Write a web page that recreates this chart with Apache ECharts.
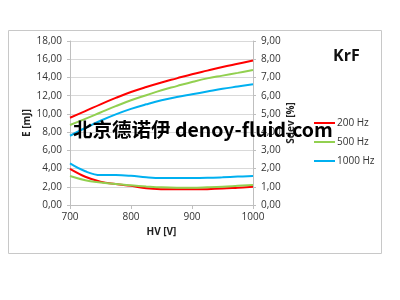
<!DOCTYPE html>
<html><head><meta charset="utf-8">
<script src="https://cdn.jsdelivr.net/npm/echarts@6/dist/echarts.min.js"></script>
<style>html,body{margin:0;padding:0;background:#fff}#c{width:400px;height:300px}</style>
</head><body><div id="c"></div>
<script>
const hv = [700,725,750,775,800,825,850,875,900,925,950,975,1000];
const e200 = [9.58,10.3,11.05,11.75,12.4,12.95,13.45,13.9,14.35,14.75,15.15,15.5,15.85];
const e500 = [8.78,9.45,10.15,10.85,11.5,12.05,12.6,13.05,13.5,13.9,14.2,14.5,14.82];
const e1000 = [7.6,8.45,9.25,9.95,10.55,11.05,11.5,11.85,12.15,12.45,12.75,13.0,13.25];
const s200 = [1.98,1.55,1.28,1.15,1.05,0.92,0.87,0.86,0.86,0.87,0.9,0.95,1.0];
const s500 = [1.59,1.36,1.24,1.15,1.08,1.02,0.97,0.95,0.95,0.97,1.0,1.05,1.1];
const s1000 = [2.28,1.85,1.64,1.64,1.6,1.52,1.48,1.48,1.48,1.49,1.52,1.56,1.59];
const legendNames = ['200 Hz','500 Hz','1000 Hz'];
const colors = ['#ff0000','#92d050','#00b0f0'];

const pair = (ys) => hv.map((x,i)=>[x,ys[i]]);
const fmt = v => v.toFixed(2).replace('.',',');
const font = 'Open Sans';
const chart = echarts.init(document.getElementById('c'), null, {renderer:'canvas'});
const lineS = (name, data, color, yi) => ({
  name, type:'line', data:pair(data), yAxisIndex:yi, smooth:0.4, showSymbol:false, symbol:'none',
  lineStyle:{color, width:2}, itemStyle:{color}, z:3
});
chart.setOption({
  animation:false,
  textStyle:{fontFamily:font},
  grid:{left:70, right:147, top:41, bottom:95, containLabel:false},
  xAxis:{type:'value', min:700, max:1000, interval:100,
    name:'HV [V]', nameLocation:'middle', nameGap:22,
    nameTextStyle:{fontWeight:'bold', fontSize:10, color:'#222', fontFamily:font},
    axisLine:{show:true, lineStyle:{color:'#bfbfbf'}},
    axisTick:{show:true, length:4, lineStyle:{color:'#bfbfbf'}},
    axisLabel:{formatter:v=>String(v), fontSize:10, color:'#333', margin:7, fontFamily:font},
    splitLine:{show:false}},
  yAxis:[
    {type:'value', min:0, max:18, interval:2, position:'left',
     name:'E [mJ]', nameLocation:'middle', nameGap:34, nameRotate:90,
     nameTextStyle:{fontWeight:'bold', fontSize:10, color:'#222', fontFamily:font},
     axisLine:{show:true, lineStyle:{color:'#bfbfbf'}},
     axisTick:{show:true, length:3, lineStyle:{color:'#bfbfbf'}},
     axisLabel:{formatter:fmt, fontSize:10, color:'#333', margin:8, fontFamily:font},
     splitLine:{show:true, lineStyle:{color:'#d9d9d9'}}},
    {type:'value', min:0, max:9, interval:1, position:'right',
     name:'Sdev [%]', nameLocation:'middle', nameGap:33, nameRotate:90,
     nameTextStyle:{fontWeight:'bold', fontSize:10, color:'#222', fontFamily:font},
     axisLine:{show:true, lineStyle:{color:'#bfbfbf'}},
     axisTick:{show:true, length:3, lineStyle:{color:'#bfbfbf'}},
     axisLabel:{formatter:fmt, fontSize:10, color:'#333', margin:8, fontFamily:font},
     splitLine:{show:false}}
  ],
  legend:{orient:'vertical', left:309, top:111, itemGap:5, itemWidth:21, itemHeight:2,
    icon:'rect', data:legendNames,
    textStyle:{fontSize:10, lineHeight:14, color:'#333', fontFamily:font, padding:[0,0,0,-3]}},
  series:[
    lineS(legendNames[0], e200, colors[0], 0),
    lineS(legendNames[1], e500, colors[1], 0),
    lineS(legendNames[2], e1000, colors[2], 0),
    lineS(legendNames[0], s200, colors[0], 1),
    lineS(legendNames[1], s500, colors[1], 1),
    lineS(legendNames[2], s1000, colors[2], 1)
  ],
  graphic:[
    {type:'rect', shape:{x:8.5, y:30.5, width:373, height:223}, style:{fill:null, stroke:'#c8c8c8', lineWidth:1}, z:0, silent:true},
    {type:'text', left:333, top:48, style:{text:'KrF', font:'bold 16px "Open Sans"', fill:'#111'}, z:10},
    {type:'text', left:73, top:120, style:{text:'北京德诺伊 denoy-fluid.com', font:'bold 19.5px "Noto Sans CJK SC"', fill:'#000'}, z:20}
  ]
});
</script></body></html>
